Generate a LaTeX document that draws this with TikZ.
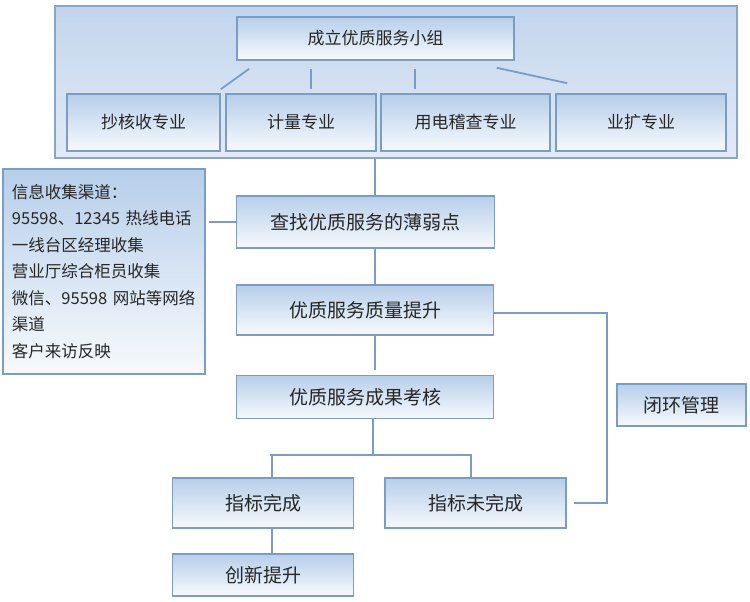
\documentclass[tikz,border=0pt]{standalone}
\usepackage{fontspec}
\newfontfamily\cjk{Noto Sans CJK SC}
\usepackage{tikz}
\usetikzlibrary{positioning}
\definecolor{edgeblue}{HTML}{7B9CC4}
\definecolor{boxtop}{HTML}{B7CEEA}
\definecolor{boxbottom}{HTML}{F7FAFD}
\definecolor{teamtop}{HTML}{C2D5ED}
\definecolor{teambottom}{HTML}{E2EBF6}

\begin{document}
\begin{tikzpicture}[x=1pt,y=-1pt,font=\cjk\fontsize{19}{26.5}\selectfont,
  box/.style={rectangle,draw=edgeblue,line width=1.6pt,top color=boxtop,bottom color=boxbottom,inner sep=0pt,align=center,text=black!85},
  smalltext/.style={font=\cjk\fontsize{17}{26.5}\selectfont},
  teambox/.style={rectangle,draw=edgeblue!90,line width=2pt,top color=teamtop,bottom color=teambottom,inner sep=0pt},
  link/.style={draw=edgeblue,line width=1.8pt}]
\useasboundingbox (0,0) rectangle (750,602);

% group of specialties
\node[teambox,minimum width=682,minimum height=152] (team) at (396,82) {};
\node[box,smalltext,minimum width=277,minimum height=43] (lead) at (375.5,38.5) {成立优质服务小组};
\node[box,smalltext,minimum width=153,minimum height=57] (s1) at (143.5,122.5) {抄核收专业};
\node[box,smalltext,minimum width=150,minimum height=57] (s2) at (301,122.5) {计量专业};
\node[box,smalltext,minimum width=169,minimum height=57] (s3) at (465.5,122.5) {用电稽查专业};
\node[box,smalltext,minimum width=170,minimum height=57] (s4) at (641,122.5) {业扩专业};
\draw[link] ([xshift=13pt,yshift=-8pt]lead.south west) -- ([yshift=4pt]s1.north east);
\draw[link] ([xshift=75pt,yshift=-8pt]lead.south west) -- ([xshift=86pt,yshift=4pt]s2.north west);
\draw[link] ([xshift=179pt,yshift=-8pt]lead.south west) -- ([xshift=35pt,yshift=4pt]s3.north west);
\draw[link] ([xshift=-18pt,yshift=-7pt]lead.south east) -- ([xshift=12pt,yshift=10pt]s4.north west);

% main flow
\coordinate (spine) at (375,0);
\node[box,font=\cjk\fontsize{16.5}{26.5}\selectfont,minimum width=201,minimum height=205,text width=184,inner xsep=9pt,align=left] (info) at (104,271.5)
  {信息收集渠道：\\95598、12345 热线电话\\一线台区经理收集\\营业厅综合柜员收集\\微信、95598 网站等网络\\渠道\\客户来访反映};
\node[box,minimum width=258,minimum height=52] (find) at (365.5,222) {查找优质服务的薄弱点};
\node[box,minimum width=257,minimum height=50] (raise) at (365,310) {优质服务质量提升};
\node[box,minimum width=257,minimum height=43] (check) at (365,397) {优质服务成果考核};
\node[box,minimum width=181,minimum height=50] (done) at (263,503) {指标完成};
\node[box,minimum width=181,minimum height=50] (undone) at (475.5,503) {指标未完成};
\node[box,minimum width=181,minimum height=42] (innov) at (263,575) {创新提升};
\node[box,minimum width=129,minimum height=42] (loop) at (681.5,405) {闭环管理};

\draw[link] (team.south -| spine) -- (find.north -| spine);
\draw[link,shorten <=3pt] (info.east |- find.west) -- (find.west);
\draw[link] (find.south -| spine) -- (raise.north -| spine);
\draw[link] (raise.south -| spine) -- ([yshift=5pt]check.north -| spine);
\coordinate (split) at (373,455);
\draw[link] (check.south -| split) -- (split);
\draw[link] ([xshift=-101pt]split) -| ([xshift=9pt]done.north);
\draw[link] ([xshift=-103pt]split) -- ([xshift=98pt]split) -- ([xshift=-4.5pt]undone.north);
\draw[link] ([xshift=9pt]done.south) -- ([xshift=9pt]innov.north);
\coordinate (back) at (607,313);
\draw[link] (raise.east |- back) -- (back) |- ([xshift=7pt]undone.east);
\end{tikzpicture}
\end{document}
